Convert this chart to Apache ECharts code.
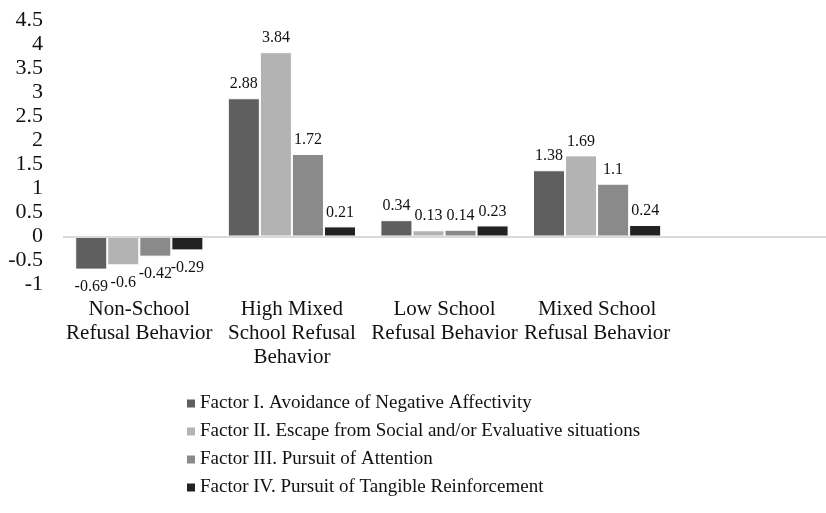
<!DOCTYPE html>
<html>
<head>
    <meta charset="utf-8">
    <title>School refusal factors</title>
    <script src="https://cdn.jsdelivr.net/npm/echarts@6/dist/echarts.min.js"></script>
</head>
<body style="margin:0;background:#fff;">
    <div id="main" style="width: 826px;height:513px;"></div>
    <script type="text/javascript">

// categories (the 5th slot is empty in the original figure)
var categories = [
    'Non-School\nRefusal Behavior',
    'High Mixed\nSchool Refusal\nBehavior',
    'Low School\nRefusal Behavior',
    'Mixed School\nRefusal Behavior',
    ''
];

var factorNames = [
    'Factor I. Avoidance of Negative Affectivity',
    'Factor II. Escape from Social and/or Evaluative situations',
    'Factor III. Pursuit of Attention',
    'Factor IV. Pursuit of Tangible Reinforcement'
];

var factor1 = [-0.69, 2.88, 0.34, 1.38];
var factor2 = [-0.6, 3.84, 0.13, 1.69];
var factor3 = [-0.42, 1.72, 0.14, 1.1];
var factor4 = [-0.29, 0.21, 0.23, 0.24];

var colors = ['#5f5f5f', '#b3b3b3', '#8a8a8a', '#222222'];

var serif = '"Liberation Serif", "Times New Roman", serif';

function toData(arr) {
    return arr.map(function (v) {
        return {
            value: v,
            label: { position: v < 0 ? 'bottom' : 'top', distance: v < 0 ? 9 : 6 }
        };
    });
}

var allData = [factor1, factor2, factor3, factor4];

var series = allData.map(function (arr, i) {
    var s = {
        name: factorNames[i],
        type: 'bar',
        data: toData(arr),
        barGap: '0%',
        barCategoryGap: '16%',
        itemStyle: { color: colors[i], borderColor: '#ffffff', borderWidth: 1 },
        label: {
            show: true,
            color: '#111',
            fontFamily: serif,
            fontSize: 16
        }
    };
    if (i === 0) {
        // the only visible horizontal line is the one at zero
        s.markLine = {
            silent: true,
            symbol: 'none',
            label: { show: false },
            lineStyle: { color: '#d9d9d9', width: 2, type: 'solid' },
            data: [{ yAxis: 0 }]
        };
    }
    return s;
});

var myChart = echarts.init(document.getElementById('main'));

var option = {
    backgroundColor: '#ffffff',
    animation: false,
    color: colors,
    grid: {
        left: 63,
        top: 20.5,
        height: 264,
        width: 773
    },
    legend: {
        orient: 'vertical',
        left: 180,
        top: 389,
        itemWidth: 10,
        itemHeight: 10,
        itemGap: 9,
        icon: 'rect',
        textStyle: { color: '#111', fontFamily: serif, fontSize: 19, padding: [0, 0, 0, -1] },
        data: factorNames
    },
    xAxis: {
        type: 'category',
        data: categories,
        axisLine: { show: false, onZero: false },
        axisTick: { show: false },
        axisLabel: {
            interval: 0,
            margin: 13,
            color: '#111',
            fontFamily: serif,
            fontSize: 21,
            lineHeight: 24
        }
    },
    yAxis: {
        type: 'value',
        min: -1,
        max: 4.5,
        interval: 0.5,
        axisLine: { show: false },
        axisTick: { show: false },
        splitLine: { show: false },
        axisLabel: {
            margin: 20,
            color: '#111',
            fontFamily: serif,
            fontSize: 22
        }
    },
    series: series
};

myChart.setOption(option);

    </script>
</body>
</html>
